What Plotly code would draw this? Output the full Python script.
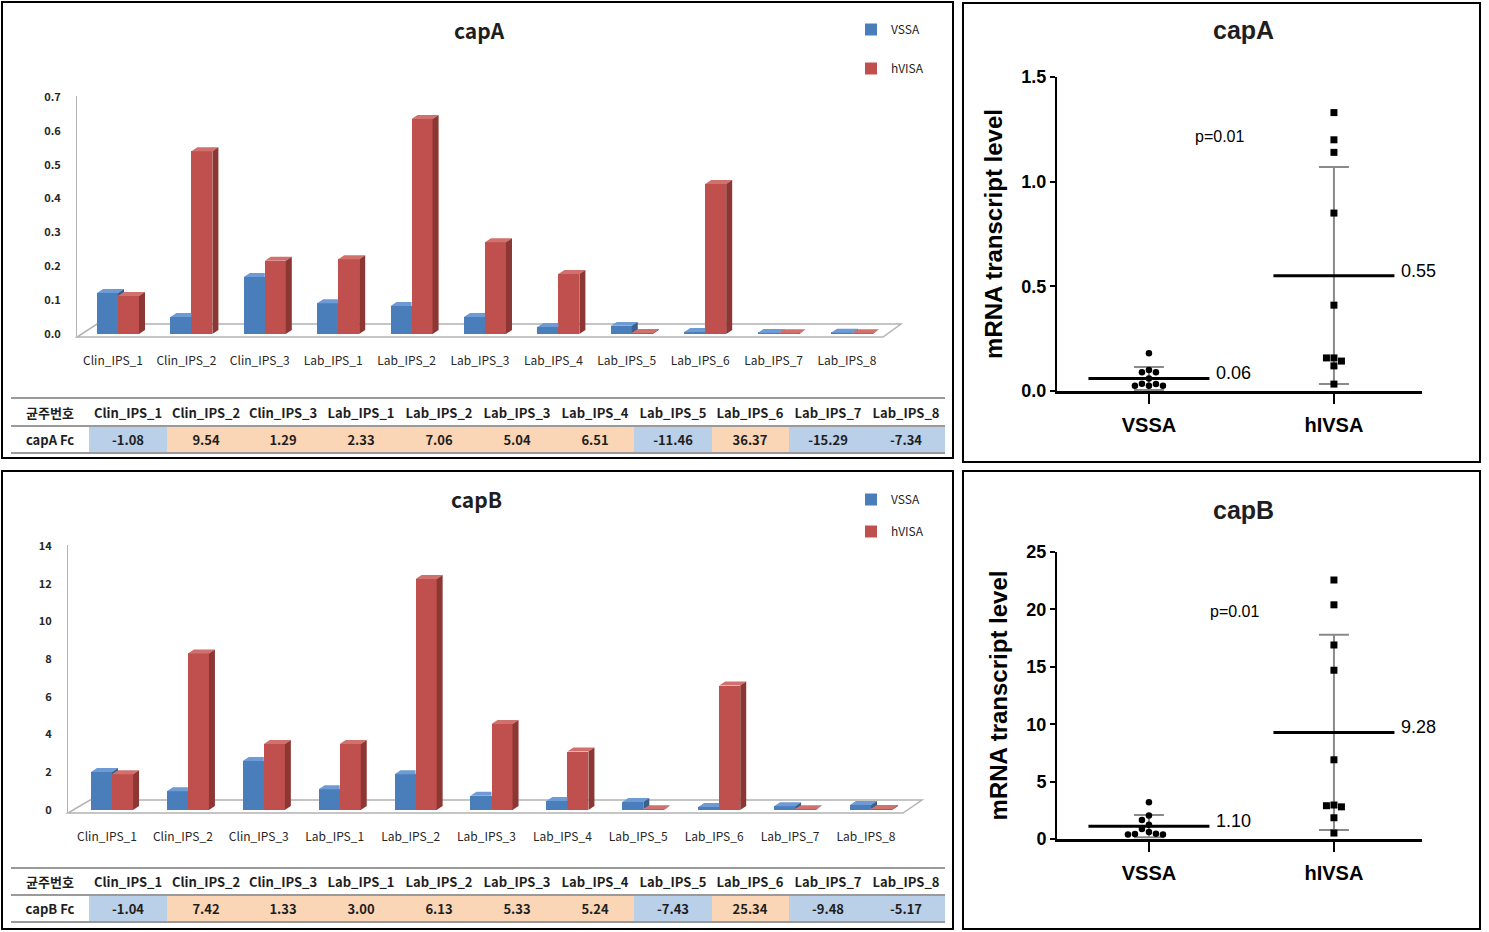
import plotly.graph_objects as go

# ---------------- data ----------------
categories = ["Clin_IPS_1", "Clin_IPS_2", "Clin_IPS_3", "Lab_IPS_1", "Lab_IPS_2", "Lab_IPS_3",
              "Lab_IPS_4", "Lab_IPS_5", "Lab_IPS_6", "Lab_IPS_7", "Lab_IPS_8"]
series_names = ["VSSA", "hVISA"]

capA_vssa = [0.121, 0.050, 0.168, 0.091, 0.083, 0.050, 0.021, 0.024, 0.006, 0.003, 0.004]
capA_hvisa = [0.112, 0.540, 0.216, 0.221, 0.635, 0.271, 0.177, 0.003, 0.443, 0.002, 0.002]
capB_vssa = [2.01, 1.00, 2.60, 1.10, 1.90, 0.75, 0.48, 0.42, 0.16, 0.20, 0.26]
capB_hvisa = [1.90, 8.30, 3.50, 3.50, 12.25, 4.56, 3.10, 0.04, 6.60, 0.04, 0.05]

capA_fc = ["-1.08", "9.54", "1.29", "2.33", "7.06", "5.04", "6.51", "-11.46", "36.37", "-15.29", "-7.34"]
capB_fc = ["-1.04", "7.42", "1.33", "3.00", "6.13", "5.33", "5.24", "-7.43", "25.34", "-9.48", "-5.17"]
table_head = "균주번호"

groups = ["VSSA", "hIVSA"]
capA_vssa_pts = [0.18, 0.10, 0.09, 0.09, 0.06, 0.033, 0.025, 0.025, 0.025, 0.035]
capA_hivsa_pts = [1.33, 1.20, 1.14, 0.85, 0.41, 0.158, 0.143, 0.158, 0.12, 0.033]
capB_vssa_pts = [3.2, 2.05, 1.65, 1.25, 0.87, 0.60, 0.44, 0.40, 0.40, 0.45]
capB_hivsa_pts = [22.56, 20.4, 16.9, 14.7, 6.9, 2.96, 2.9, 2.8, 1.85, 0.52]
capA_means = [0.06, 0.55]
capB_means = [1.10, 9.28]
capA_sd_lo = [0.005, 0.033]
capA_sd_hi = [0.115, 1.07]
capB_sd_lo = [0.15, 0.78]
capB_sd_hi = [2.09, 17.8]
p_text = "p=0.01"

# ---------------- helpers ----------------
W, H = 1489, 932


def PX(x):
    return x / W


def PY(y):
    return 1 - y / H


BLUE, BLUE_TOP, BLUE_SIDE = "#4a7ebb", "#6e9bd6", "#38608f"
RED, RED_TOP, RED_SIDE = "#c0504d", "#d0716e", "#8c3734"
NEG_FILL, POS_FILL = "#bacfe8", "#fbd6b6"
KFONT = "Noto Sans CJK KR"
AFONT = "Liberation Sans"

fig = go.Figure()
annotations = []


def add_bars(vb, vr, xa, ya, w, shift, dx, dy, legend):
    n = len(vb)
    xs_b = [i + shift - w / 2 for i in range(n)]
    xs_r = [i + shift + w / 2 for i in range(n)]
    fig.add_trace(go.Bar(x=xs_b, y=vb, width=w, marker=dict(color=BLUE, line=dict(width=0)),
                         name=series_names[0], xaxis=xa, yaxis=ya, legend=legend,
                         legendgroup=legend + "b", hoverinfo="skip"))
    fig.add_trace(go.Bar(x=xs_r, y=vr, width=w, marker=dict(color=RED, line=dict(width=0)),
                         name=series_names[1], xaxis=xa, yaxis=ya, legend=legend,
                         legendgroup=legend + "r", hoverinfo="skip"))
    polys = {"bt": ([], []), "bs": ([], []), "rt": ([], []), "rs": ([], [])}

    def add(key, pts):
        xx, yy = polys[key]
        for p in pts:
            xx.append(p[0]); yy.append(p[1])
        xx.append(None); yy.append(None)

    for i in range(n):
        b0 = i + shift - w
        b1 = i + shift
        r1 = i + shift + w
        b, r = vb[i], vr[i]
        if r >= b:
            add("bt", [(b0, b), (b0 + dx, b + dy), (b1, b + dy), (b1, b)])
        else:
            add("bt", [(b0, b), (b0 + dx, b + dy), (b1 + dx, b + dy), (b1, b)])
            add("bs", [(b1, r), (b1 + dx, max(r, dy)), (b1 + dx, b + dy), (b1, b)])
        add("rt", [(b1, r), (b1 + dx, r + dy), (r1 + dx, r + dy), (r1, r)])
        add("rs", [(r1, 0), (r1 + dx, dy), (r1 + dx, r + dy), (r1, r)])
    for key, col in [("bt", BLUE_TOP), ("bs", BLUE_SIDE), ("rt", RED_TOP), ("rs", RED_SIDE)]:
        xx, yy = polys[key]
        if not xx:
            continue
        fig.add_trace(go.Scatter(x=xx, y=yy, mode="lines", fill="toself", fillcolor=col,
                                 line=dict(width=0, color=col), showlegend=False,
                                 hoverinfo="skip", xaxis=xa, yaxis=ya))


# top-left (capA bars): category step 73.4 px, 0.1 = 33.86 px
add_bars(capA_vssa, capA_hvisa, "x", "y", 0.286, 0.068, 0.082, 0.0118, "legend")
# bottom-left (capB bars): category step 75.9 px, 1 = 18.86 px
add_bars(capB_vssa, capB_hvisa, "x2", "y2", 0.277, 0.066, 0.079, 0.212, "legend2")


def swarm(vals, ypu, xpu, diam):
    order = sorted(range(len(vals)), key=lambda k: -vals[k])
    placed = []
    offs = [0.0] * len(vals)
    for k in order:
        y = vals[k] * ypu
        x = 0
        for j in [0, -1, 1, -2, 2, -3, 3, -4, 4]:
            x = j * diam
            if all((x - a) ** 2 + (y - c) ** 2 >= (diam * 0.95) ** 2 for a, c in placed):
                break
        placed.append((x, y))
        offs[k] = x / xpu
    return offs


def add_dot_panel(v_pts, h_pts, means, lo, hi, xa, ya, ypu):
    xpu = 185.0
    fig.add_trace(go.Scatter(
        x=[0, 1], y=means, mode="markers", marker=dict(size=1, color="rgba(0,0,0,0)"),
        error_y=dict(type="data", symmetric=False,
                     array=[hi[i] - means[i] for i in range(2)],
                     arrayminus=[means[i] - lo[i] for i in range(2)],
                     color="#8a8a8a", thickness=2, width=15),
        showlegend=False, hoverinfo="skip", xaxis=xa, yaxis=ya, cliponaxis=False))
    half = 0.327
    fig.add_trace(go.Scatter(
        x=[0 - half, 0 + half, None, 1 - half, 1 + half],
        y=[means[0], means[0], None, means[1], means[1]],
        mode="lines", line=dict(color="black", width=3), showlegend=False,
        hoverinfo="skip", xaxis=xa, yaxis=ya, cliponaxis=False))
    ov = swarm(v_pts, ypu, xpu, 7)
    oh = swarm(h_pts, ypu, xpu, 7.5)
    fig.add_trace(go.Scatter(x=ov, y=v_pts, mode="markers",
                             marker=dict(symbol="circle", size=6.5, color="black"),
                             showlegend=False, hoverinfo="skip", xaxis=xa, yaxis=ya, cliponaxis=False))
    fig.add_trace(go.Scatter(x=[1 + o for o in oh], y=h_pts, mode="markers",
                             marker=dict(symbol="square", size=7, color="black"),
                             showlegend=False, hoverinfo="skip", xaxis=xa, yaxis=ya, cliponaxis=False))
    for i in range(2):
        annotations.append(dict(x=i + half, y=means[i], xref=xa, yref=ya, text=f"{means[i]:.2f}",
                                showarrow=False, xanchor="left", yanchor="middle", xshift=5, yshift=5,
                                font=dict(family=AFONT, size=18, color="black")))


add_dot_panel(capA_vssa_pts, capA_hivsa_pts, capA_means, capA_sd_lo, capA_sd_hi, "x3", "y3", 209.33)
add_dot_panel(capB_vssa_pts, capB_hivsa_pts, capB_means, capB_sd_lo, capB_sd_hi, "x4", "y4", 11.48)
annotations.append(dict(x=0.384, y=1.218, xref="x3", yref="y3", text=p_text, showarrow=False,
                        xanchor="center", yanchor="middle",
                        font=dict(family=AFONT, size=16, color="black")))
annotations.append(dict(x=0.46, y=19.8, xref="x4", yref="y4", text=p_text, showarrow=False,
                        xanchor="center", yanchor="middle",
                        font=dict(family=AFONT, size=16, color="black")))


# tables drawn as a 2-row heatmap grid (header row + fold-change row)
TABLE_SCALE = [[0.0, "white"], [0.333, "white"], [0.333, NEG_FILL], [0.667, NEG_FILL],
               [0.667, POS_FILL], [1.0, POS_FILL]]


def add_table(row_label, fc, xa, ya):
    head = [table_head] + categories
    vals = [row_label] + fc
    z_head = [0] * len(head)
    z_vals = [0] + [1 if v.startswith("-") else 2 for v in fc]
    fig.add_trace(go.Heatmap(
        z=[z_head, z_vals], x=list(range(len(head))), y=[0, 1],
        text=[[f"<b>{t}</b>" for t in head], [f"<b>{t}</b>" for t in vals]],
        texttemplate="%{text}", textfont=dict(family=KFONT, size=13, color="#1e1e1e"),
        colorscale=TABLE_SCALE, zmin=0, zmax=2, showscale=False, xgap=0, ygap=0,
        hoverinfo="skip", xaxis=xa, yaxis=ya))


add_table("capA Fc", capA_fc, "x5", "y5")
add_table("capB Fc", capB_fc, "x6", "y6")

# ---------------- layout ----------------
bar_tick_font = dict(family=KFONT, size=12, color="#262626")
ytick_font = dict(family=KFONT, size=11, color="#262626", weight="bold")
dot_tick_font = dict(family=AFONT, size=18, color="black", weight="bold")
dot_x_font = dict(family=AFONT, size=20, color="black", weight="bold")

shapes = []
# panel borders
for (x0, y0, x1, y1) in [(2, 2, 953, 458), (963, 3, 1480, 462), (2, 471, 953, 929), (963, 471, 1480, 929)]:
    shapes.append(dict(type="rect", xref="paper", yref="paper", x0=PX(x0), x1=PX(x1), y0=PY(y1), y1=PY(y0),
                       line=dict(color="black", width=2), fillcolor="rgba(0,0,0,0)", layer="above"))


def floor(pts):
    p = "M " + " L ".join(f"{PX(a)},{PY(b)}" for a, b in pts) + " Z"
    return dict(type="path", xref="paper", yref="paper", path=p,
                line=dict(color="#b3b3b3", width=1.5), fillcolor="white", layer="below")


shapes.append(floor([(77, 337), (883, 337), (901, 324), (97, 324)]))
shapes.append(floor([(68, 813), (903, 813), (922, 800), (90, 800)]))
# table rules
for yy in [398, 426, 453, 868, 895, 922]:
    shapes.append(dict(type="line", xref="paper", yref="paper", x0=PX(11), x1=PX(945), y0=PY(yy), y1=PY(yy),
                       line=dict(color="#9a9a9a", width=2), layer="above"))

for (tx, ty, txt, fam, sz) in [(480, 30, "capA", KFONT, 21), (476, 499, "capB", KFONT, 21),
                               (1243, 30, "capA", AFONT, 25), (1243, 510, "capB", AFONT, 25)]:
    annotations.append(dict(x=PX(tx), y=PY(ty), xref="paper", yref="paper", text=f"<b>{txt}</b>",
                            showarrow=False, xanchor="center", yanchor="middle",
                            font=dict(family=fam, size=sz, color="#1e1e1e")))

common_bar_x = dict(showgrid=False, zeroline=False, showline=False, ticks="", automargin=False,
                    tickvals=list(range(len(categories))), ticktext=categories,
                    tickfont=bar_tick_font, ticklabelstandoff=15)
common_bar_y = dict(showgrid=False, zeroline=False, showline=True, linecolor="#b3b3b3", linewidth=1,
                    automargin=False, ticks="", tickfont=ytick_font, ticklabelstandoff=13)
dot_x = dict(showgrid=False, zeroline=False, showline=True, linecolor="black", linewidth=3,
             automargin=False, ticks="outside", ticklen=10, tickwidth=2, tickcolor="black",
             tickvals=[0, 1], ticktext=groups, tickfont=dot_x_font, ticklabelstandoff=4,
             range=[-0.497, 1.476], domain=[PX(1057), PX(1422)])
dot_y = dict(showgrid=False, zeroline=False, showline=True, linecolor="black", linewidth=2,
             automargin=False, ticks="outside", ticklen=5, tickwidth=2, tickcolor="black",
             tickfont=dot_tick_font,
             title=dict(text="<b>mRNA transcript level</b>", font=dict(family=AFONT, size=24, color="black"),
                        standoff=12))
table_x = dict(visible=False, range=[-0.5, 11.5], domain=[PX(11), PX(945)], automargin=False, fixedrange=True)
table_y = dict(visible=False, range=[1.5, -0.5], automargin=False, fixedrange=True)

fig.update_layout(
    width=W, height=H, margin=dict(l=0, r=0, t=0, b=0, autoexpand=False),
    paper_bgcolor="white", plot_bgcolor="rgba(0,0,0,0)",
    barmode="overlay", bargap=0,
    xaxis=dict(**common_bar_x, domain=[PX(77), PX(901)], range=[-0.4905, 10.736], anchor="y"),
    yaxis=dict(**common_bar_y, domain=[PY(337), PY(96)], range=[-0.00886, 0.7029], dtick=0.1,
               tickformat=".1f", anchor="x"),
    xaxis2=dict(**common_bar_x, domain=[PX(68), PX(922)], range=[-0.514, 10.738], anchor="y2"),
    yaxis2=dict(**common_bar_y, domain=[PY(813), PY(545)], range=[-0.159, 14.053], dtick=2, anchor="x2"),
    xaxis3=dict(**dot_x, anchor="y3"),
    yaxis3=dict(**dot_y, domain=[PY(391), PY(77)], range=[0, 1.5], dtick=0.5, tickformat=".1f", anchor="x3"),
    xaxis4=dict(**dot_x, anchor="y4"),
    yaxis4=dict(**dot_y, domain=[PY(839), PY(552)], range=[0, 25], dtick=5, anchor="x4"),
    xaxis5=dict(**table_x, anchor="y5"),
    yaxis5=dict(**table_y, domain=[PY(453), PY(399)], anchor="x5"),
    xaxis6=dict(**table_x, anchor="y6"),
    yaxis6=dict(**table_y, domain=[PY(922), PY(868)], anchor="x6"),
    legend=dict(x=PX(851), y=PY(15), xanchor="left", yanchor="top", bgcolor="rgba(0,0,0,0)",
                font=dict(family=KFONT, size=12, color="#1e1e1e"), tracegroupgap=20, traceorder="grouped"),
    legend2=dict(x=PX(851), y=PY(485), xanchor="left", yanchor="top", bgcolor="rgba(0,0,0,0)",
                 font=dict(family=KFONT, size=12, color="#1e1e1e"), tracegroupgap=13, traceorder="grouped"),
    shapes=shapes, hovermode=False,
)
fig.layout.annotations = annotations

fig.write_html("out.html", config={"displayModeBar": False},
               post_script="document.body.style.margin='0px';document.body.style.overflow='hidden';")
